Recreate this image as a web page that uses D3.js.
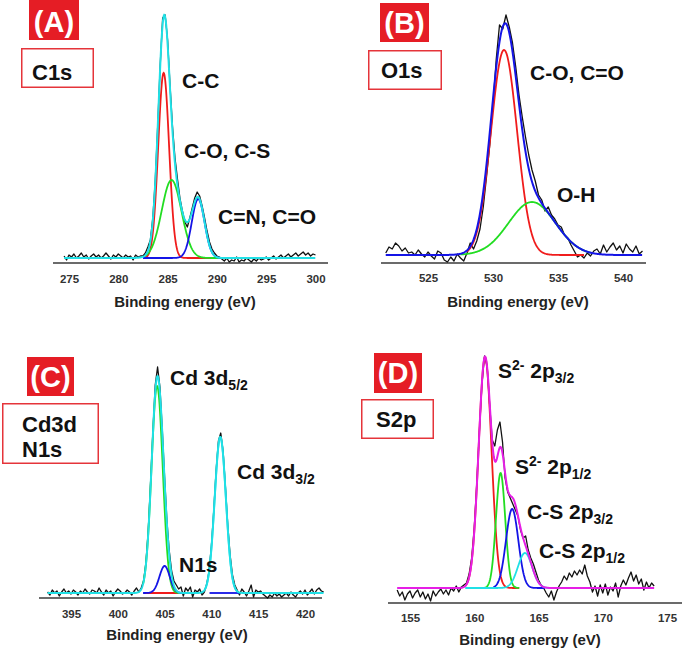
<!DOCTYPE html>
<html><head><meta charset="utf-8">
<script src="https://cdn.jsdelivr.net/npm/d3@7"></script>
<style>
body{margin:0;background:#fff}
svg{display:block}
text{font-family:"Liberation Sans",Arial,sans-serif;font-weight:bold}
</style>
</head><body>
<svg id="chart" width="685" height="649"></svg>
<script>
// ---------------- DATA ----------------
// Measured spectra (intensity, a.u., above background), sampled on a regular energy grid
const c1sStart = 274.5, c1sStep = 0.25;
const c1sCounts = [2,-2,3,1,4,0,2,5, 1,3,-1,2,4,1,3,0, 2,5,2,-1,3,1,4,2, 0,3,1,2,-2,3,1,2,
  2,5,11,18,40,78,133,193,240,243,218,172,131,100,79,60,47,36,31,40,50,60,66,62,52,40,27,16,9,5,2,1,
  -1,-3,0,-4,-2,-3,1,-4,-2,-3,0,-2,-4,-1,-3,0,-2,-1,1,-2,0,2,-1,1,3,0,2,4,1,3,5,2,4,6,3,5,2,4,3];
const o1sStart = 521.75, o1sStep = 0.25;
const o1sCounts = [2,8,6,12,9,4,7,2,3,0,5,1,-2,3,-1,-4,4,2,-5,-7,-2,-6,1,-3,-6,2,
  12,6,14,26,48,78,110,150,196,230,226,240,228,212,188,160,138,118,100,85,74,60,55,44,48,40,36,30,28,20,17,10,4,-2,0,-3,
  2,-1,4,6,1,10,3,8,12,5,9,2,11,6,3,9,1,4];
const cd3dStart = 392.5, cd3dStep = 0.25;
const cd3dCounts = [1,-2,3,0,2,-3,1,4,0,2,-1,3,1,-2,2,0,4,1,-1,3,2,0,5,1,-2,3,0,2,-3,1,4,2,-1,0,3,1,-2,2,5,1,
  5,12,30,62,110,162,208,226,206,164,116,72,42,22,12,8,4,6,
  -3,5,2,6,-4,3,1,4,-2,
  1,9,22,47,82,122,152,160,142,106,68,38,18,8,3,
  -2,4,1,-3,2,8,-4,3,1,2,-1,-3,-5,-2,-4,0,-3,-1,-4,-2,0,-3,1,-2,-4,0,2,-1,3,-2,1,4,-1,3,5,2,1];
const s2pStart = 154.0, s2pStep = 0.2;
const s2pCounts = [-2,-8,-4,-12,-6,-3,-10,-5,-2,-9,-4,-11,-6,-13,-3,-8,-4,-1,-6,-2,-7,0,-3,2,-4,1,3,
  5,14,30,60,105,157,204,232,222,183,148,142,158,166,146,110,96,90,84,78,72,58,50,52,38,30,24,16,8,3,0,
  -5,-9,-3,-12,-4,2,6,12,8,15,11,17,13,18,14,23,12,6,-4,2,-8,3,-5,4,-7,1,-3,5,-9,2,8,3,10,16,7,13,4,9,-2,6,0,5,2];

// Fitted components: peak centre (eV), height (a.u.), sigma (eV), plotted energy range
const c1sPeaks = [
  {name:"C-C",      center:284.6,  height:185, sigma:0.55, from:282.6, to:289.6},
  {name:"C-O, C-S", center:285.4,  height:78,  sigma:1.0,  from:282.7, to:290.6},
  {name:"C=N, C=O", center:288.1,  height:59,  sigma:0.65, from:282.5, to:291.0}
];
const o1sPeaks = [
  {name:"C-O, C=O", center:530.85, height:205, sigma:1.0, from:528.0, to:537.0},
  {name:"O-H",      center:533.0,  height:53,  sigma:1.8, from:527.5, to:537.5}
];
const cd3dPeaks = [
  {name:"bg",       center:404.8,  height:0,   sigma:0.6,  from:402.8, to:406.5},
  {name:"Cd 3d5/2", center:404.2,  height:207, sigma:0.6,  from:402.7, to:406.8},
  {name:"N1s",      center:405.0,  height:27,  sigma:0.55, from:402.7, to:407.0},
  {name:"bg2",      center:411.0,  height:0,   sigma:0.6,  from:409.8, to:413.0},
  {name:"Cd 3d3/2", center:410.95, height:156, sigma:0.6,  from:409.3, to:412.8}
];
const s2pPeaks = [
  {name:"S2- 2p3/2", center:160.84, height:231, sigma:0.5,  from:159.3, to:163.5},
  {name:"S2- 2p1/2", center:162.05, height:115, sigma:0.36, from:160.5, to:163.5},
  {name:"C-S 2p3/2", center:162.95, height:79,  sigma:0.48, from:161.5, to:165.5},
  {name:"C-S 2p1/2", center:163.95, height:35,  sigma:0.55, from:159.3, to:166.0}
];

const c1sTicks = [275,280,285,290,295,300];
const o1sTicks = [525,530,535,540];
const cd3dTicks = [395,400,405,410,415,420];
const s2pTicks = [155,160,165,170,175];

const panelTags = ["(A)","(B)","(C)","(D)"];
const panelNames = [["C1s"],["O1s"],["Cd3d","N1s"],["S2p"]];
const axisTitle = "Binding energy (eV)";
// peak labels: parts [text, mode]
const c1sLabels = [[["C-C"]],[["C-O, C-S"]],[["C=N, C=O"]]];
const o1sLabels = [[["C-O, C=O"]],[["O-H"]]];
const cd3dLabels = [[["Cd 3d"],["5/2","sub"]],[["Cd 3d"],["3/2","sub"]],[["N1s"]]];
const s2pLabels = [[["S"],["2-","sup"],[" 2p"],["3/2","sub"]],[["S"],["2-","sup"],[" 2p"],["1/2","sub"]],
                   [["C-S 2p"],["3/2","sub"]],[["C-S 2p"],["1/2","sub"]]];

// ---------------- LAYOUT / STYLE ----------------
const RED="#f01c1c", GREEN="#22dd22", BLUE="#1414e6", CYAN="#20e0e6", MAG="#e61ee6";
const panels = [
  {start:c1sStart, step:c1sStep, counts:c1sCounts, peaks:c1sPeaks, ticks:c1sTicks, labels:c1sLabels,
   dom:[275,300], rng:[69,315.5], base:258, axisY:263, axisX:[53,328], tickY:283, titleX:185, titleY:307,
   colors:[RED,GREEN,BLUE], env:CYAN,
   tag:{x:29,y:0,w:50,h:40,ty:32}, box:{x:21,y:48,w:73,h:40,tx:32,ty:[80]},
   labelPos:[[182,88],[184,158],[218,224]]},
  {start:o1sStart, step:o1sStep, counts:o1sCounts, peaks:o1sPeaks, ticks:o1sTicks, labels:o1sLabels,
   dom:[525,540], rng:[428,623], base:255, axisY:263, axisX:[381,646], tickY:282, titleX:518, titleY:307,
   colors:[RED,GREEN], env:BLUE,
   tag:{x:380,y:3,w:49,h:39,ty:33}, box:{x:368,y:50,w:74,h:40,tx:381,ty:[78]},
   labelPos:[[530,80],[557,202]]},
  {start:cd3dStart, step:cd3dStep, counts:cd3dCounts, peaks:cd3dPeaks, ticks:cd3dTicks, labels:cd3dLabels,
   dom:[395,420], rng:[71,305], base:593, axisY:598, axisX:[39,322], tickY:618, titleX:177, titleY:640,
   colors:[RED,GREEN,BLUE,BLUE,CYAN], env:CYAN,
   tag:{x:27,y:357,w:47,h:39,ty:387}, box:{x:2,y:403,w:97,h:61,tx:22,ty:[432,457]},
   labelPos:[[170,385],[237,479],[179,572]]},
  {start:s2pStart, step:s2pStep, counts:s2pCounts, peaks:s2pPeaks, ticks:s2pTicks, labels:s2pLabels,
   dom:[155,175], rng:[410,667], base:588, axisY:603, axisX:[388,682], tickY:622, titleX:530, titleY:645,
   colors:[RED,GREEN,BLUE,CYAN], env:MAG,
   tag:{x:374,y:353,w:48,h:40,ty:383}, box:{x:361,y:399,w:73,h:40,tx:376,ty:[427]},
   labelPos:[[498,378],[515,474],[527,519],[539,558]]}
];

const svg = d3.select("#chart");
const gauss = (p, e) => p.height * Math.exp(-0.5 * Math.pow((e - p.center) / p.sigma, 2));

panels.forEach((P, i) => {
  const x = d3.scaleLinear().domain(P.dom).range(P.rng);
  const y = d3.scaleLinear().domain([0, 250]).range([P.base, P.base - 250]);
  const g = svg.append("g");

  // axis line + tick labels
  g.append("line").attr("x1", P.axisX[0]).attr("x2", P.axisX[1])
    .attr("y1", P.axisY).attr("y2", P.axisY).attr("stroke", "#3a3a3a").attr("stroke-width", 1.6);
  const ax = d3.axisBottom(x).tickValues(P.ticks).tickSize(0).tickFormat(d3.format("d"));
  const axg = g.append("g").attr("transform", `translate(0,${P.tickY - 12})`).call(ax);
  axg.select(".domain").remove();
  axg.selectAll("text").attr("dy", 0).attr("y", 12).attr("fill", "#333")
    .style("font-size", "11.5px").style("font-weight", "bold")
    .style("font-family", '"Liberation Sans",Arial,sans-serif');
  g.append("text").attr("x", P.titleX).attr("y", P.titleY).attr("text-anchor", "middle")
    .attr("fill", "#222").style("font-size", "15px").text(axisTitle);

  // measured spectrum
  const pts = P.counts.map((c, k) => [P.start + k * P.step, c]);
  const line = d3.line().x(d => x(d[0])).y(d => y(d[1]));
  g.append("path").datum(pts).attr("d", line).attr("fill", "none")
    .attr("stroke", "#111").attr("stroke-width", 1.3).attr("stroke-linejoin", "round");

  // fitted components
  P.peaks.forEach((p, k) => {
    const es = d3.range(p.from, p.to + 1e-9, 0.04);
    g.append("path").datum(es.map(e => [e, gauss(p, e)])).attr("d", line)
      .attr("fill", "none").attr("stroke", P.colors[k]).attr("stroke-width", 1.8);
  });
  // envelope
  const eEnd = P.start + (P.counts.length - 1) * P.step;
  const envE = d3.range(P.start, eEnd + 1e-9, 0.04);
  g.append("path").datum(envE.map(e => [e, d3.sum(P.peaks, p => gauss(p, e))])).attr("d", line)
    .attr("fill", "none").attr("stroke", P.env).attr("stroke-width", 2);

  // panel tag
  g.append("rect").attr("x", P.tag.x).attr("y", P.tag.y).attr("width", P.tag.w).attr("height", P.tag.h)
    .attr("fill", "#e51d25");
  g.append("text").attr("x", P.tag.x + P.tag.w / 2).attr("y", P.tag.ty).attr("text-anchor", "middle")
    .attr("fill", "#fff").style("font-size", "29px").text(panelTags[i]);
  // name box
  g.append("rect").attr("x", P.box.x + 0.75).attr("y", P.box.y + 0.75).attr("width", P.box.w - 1.5)
    .attr("height", P.box.h - 1.5).attr("fill", "#fff").attr("stroke", "#e5343a").attr("stroke-width", 1.5);
  panelNames[i].forEach((t, k) => {
    g.append("text").attr("x", P.box.tx).attr("y", P.box.ty[k]).attr("fill", "#111")
      .style("font-size", "22px").text(t);
  });

  // peak labels
  P.labels.forEach((parts, k) => {
    const t = g.append("text").attr("x", P.labelPos[k][0]).attr("y", P.labelPos[k][1])
      .attr("fill", "#111").style("font-size", "21px");
    let shift = 0;
    parts.forEach(([s, mode]) => {
      const target = mode === "sub" ? 5 : mode === "sup" ? -8 : 0;
      const sp = t.append("tspan").attr("dy", target - shift).text(s);
      if (mode) sp.style("font-size", "14px");
      shift = target;
    });
  });
});
</script>
</body></html>
